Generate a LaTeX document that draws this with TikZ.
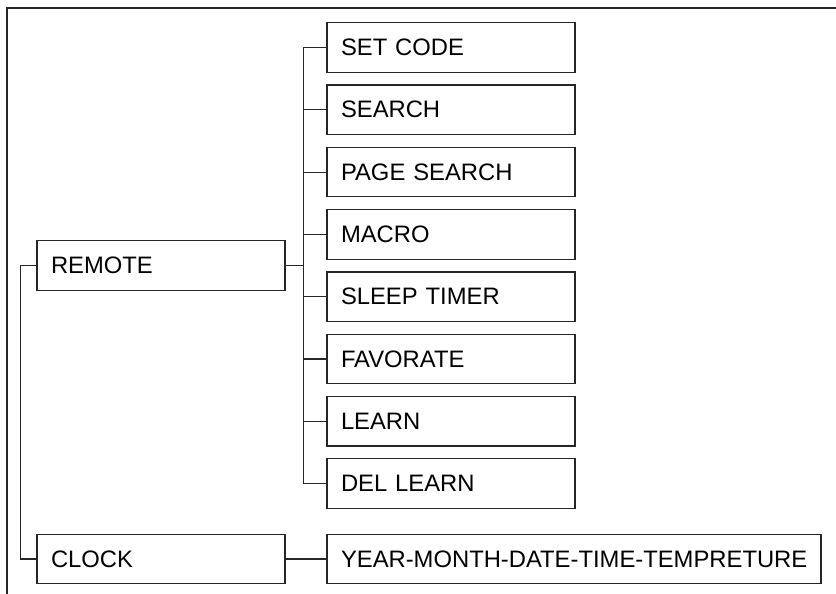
\documentclass[tikz,border=0pt]{standalone}
\usepackage{fontspec}
\setmainfont{Liberation Sans}
\begin{document}
\begin{tikzpicture}[x=1pt,y=-1pt,
  box/.style={draw=black!85, line width=1.2pt, rectangle, inner xsep=14pt, inner ysep=0pt,
    minimum height=49.5pt, text width=220pt, align=left,
    font=\fontsize{23.8}{28}\selectfont, anchor=center},
  conn/.style={draw=black!85, line width=1.2pt}]
\useasboundingbox (0,0) rectangle (836,594);
\coordinate (frTR) at (836,8);
\coordinate (frTL) at (7,8);
\coordinate (frBL) at (7,594);
\draw[conn] (frTR) -- (frTL) -- (frBL);

\node[box] (remote) at (161,265.5) {REMOTE};
\node[box] (clock) at (161,559) {CLOCK};
\node[box, text width=466pt] (year) at (574,559) {\mbox{YEAR-MONTH-DATE-TIME-TEMPRETURE}};

\node[box] (s1) at (451,47.5) {SET CODE};
\node[box] (s2) at (451,109.8) {SEARCH};
\node[box] (s3) at (451,172.1) {PAGE SEARCH};
\node[box] (s4) at (451,234.4) {MACRO};
\node[box] (s5) at (451,296.7) {SLEEP TIMER};
\node[box] (s6) at (451,359.0) {FAVORATE};
\node[box] (s7) at (451,421.3) {LEARN};
\node[box] (s8) at (451,483.6) {DEL LEARN};

\draw[conn] (remote.east) -- ++(18,0) coordinate (bus);
\foreach \s in {s1,s2,s3,s4,s5,s6,s7,s8}
  \draw[conn] (\s.west) -| (bus);
\draw[conn] (remote.west) -- ++(-16,0) |- (clock.west);
\draw[conn] (clock) -- (year);
\end{tikzpicture}
\end{document}
